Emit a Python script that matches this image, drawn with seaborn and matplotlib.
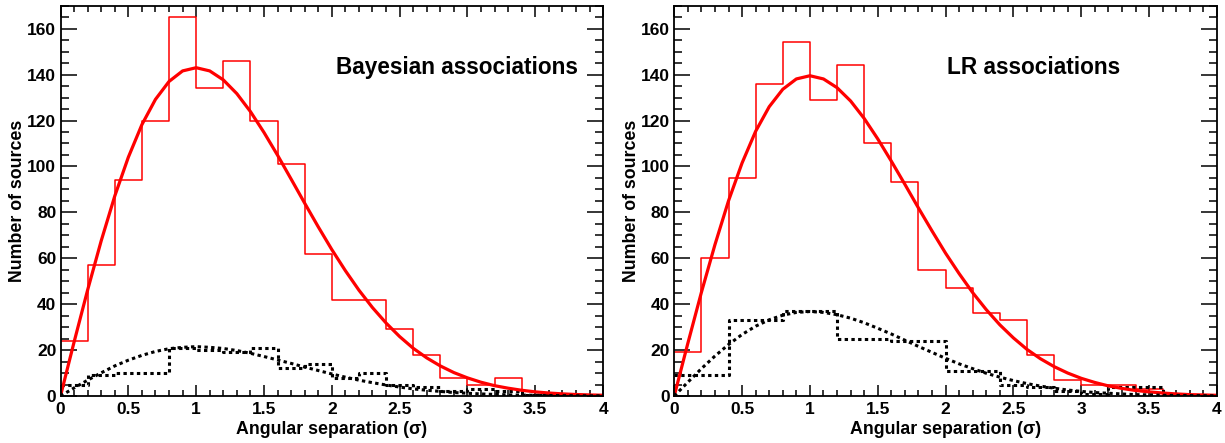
import numpy as np
import seaborn as sns
import matplotlib
matplotlib.use("Agg")
import matplotlib.pyplot as plt
from matplotlib.ticker import MultipleLocator

# histogram bins: 0 to 4 in steps of 0.2
bin_edges = [0.0, 0.2, 0.4, 0.6, 0.8, 1.0, 1.2, 1.4, 1.6, 1.8, 2.0,
             2.2, 2.4, 2.6, 2.8, 3.0, 3.2, 3.4, 3.6, 3.8, 4.0]
bin_centers = [0.1, 0.3, 0.5, 0.7, 0.9, 1.1, 1.3, 1.5, 1.7, 1.9,
               2.1, 2.3, 2.5, 2.7, 2.9, 3.1, 3.3, 3.5, 3.7, 3.9]

# Bayesian associations
bay_counts = [24, 57, 94, 120, 165, 134, 146, 120, 101, 62,
              42, 42, 29, 18, 8, 5, 8, 0, 0, 0]
bay_random = [5, 9, 10, 10, 21, 20, 19, 21, 12, 14,
              8, 10, 5, 4, 2, 3, 2, 0.5, 0.5, 0.5]

# LR associations
lr_counts = [19, 60, 95, 136, 154, 129, 144, 110, 93, 55,
             47, 36, 33, 18, 7, 5, 5, 3, 0, 0]
lr_random = [9, 9, 33, 33, 37, 37, 25, 25, 24, 24,
             11, 11, 5, 4, 2, 1, 4, 4, 0, 0]

curve_x = [0.0, 0.1, 0.2, 0.3, 0.4, 0.5, 0.6, 0.7, 0.8, 0.9, 1.0,
           1.1, 1.2, 1.3, 1.4, 1.5, 1.6, 1.7, 1.8, 1.9, 2.0,
           2.1, 2.2, 2.3, 2.4, 2.5, 2.6, 2.7, 2.8, 2.9, 3.0,
           3.1, 3.2, 3.3, 3.4, 3.5, 3.6, 3.7, 3.8, 3.9, 4.0]
bay_fit = [0, 23.5, 46.2, 67.6, 87.1, 104.0, 118.2, 129.2, 137.0, 141.6, 143.0,
           141.6, 137.7, 131.7, 123.9, 114.8, 104.9, 94.5, 84.0, 73.7, 63.8,
           54.6, 46.1, 38.5, 31.8, 25.9, 20.8, 16.6, 13.1, 10.2, 7.9,
           6.0, 4.5, 3.4, 2.5, 1.8, 1.3, 0.93, 0.65, 0.46, 0.32]
bay_random_fit = [0, 3.5, 6.9, 10.1, 13.1, 15.6, 17.7, 19.4, 20.6, 21.2, 21.5,
                  21.2, 20.7, 19.8, 18.6, 17.2, 15.7, 14.2, 12.6, 11.1, 9.6,
                  8.2, 6.9, 5.8, 4.8, 3.9, 3.1, 2.5, 2.0, 1.5, 1.2,
                  0.9, 0.7, 0.5, 0.4, 0.3, 0.2, 0.14, 0.1, 0.07, 0.05]
lr_fit = [0, 22.9, 45.1, 65.9, 85.0, 101.5, 115.3, 126.0, 133.6, 138.1, 139.5,
          138.1, 134.3, 128.5, 120.9, 112.0, 102.3, 92.2, 81.9, 71.9, 62.2,
          53.3, 45.0, 37.6, 31.0, 25.3, 20.3, 16.2, 12.8, 10.0, 7.7,
          5.9, 4.4, 3.3, 2.4, 1.8, 1.3, 0.9, 0.6, 0.45, 0.3]
lr_random_fit = [0, 6.0, 11.9, 17.4, 22.4, 26.8, 30.4, 33.2, 35.2, 36.4, 36.8,
                 36.4, 35.4, 33.9, 31.9, 29.5, 27.0, 24.3, 21.6, 19.0, 16.4,
                 14.0, 11.9, 9.9, 8.2, 6.7, 5.4, 4.3, 3.4, 2.6, 2.0,
                 1.5, 1.2, 0.9, 0.6, 0.5, 0.3, 0.24, 0.17, 0.12, 0.08]

x_ticks = [0, 0.5, 1, 1.5, 2, 2.5, 3, 3.5, 4]
x_ticklabels = ['0', '0.5', '1', '1.5', '2', '2.5', '3', '3.5', '4']
y_ticks = [0, 20, 40, 60, 80, 100, 120, 140, 160]

sns.set_style("ticks")
plt.rcParams['font.family'] = ['Liberation Sans', 'DejaVu Sans']
plt.rcParams['font.weight'] = 'bold'
plt.rcParams['text.color'] = 'black'
plt.rcParams['axes.labelcolor'] = 'black'

fig = plt.figure(figsize=(12.25, 4.43), dpi=100)
ax1 = fig.add_axes([0.0494, 0.1061, 0.4429, 0.881])
ax2 = fig.add_axes([0.5504, 0.1061, 0.4430, 0.881])

panels = [
    (ax1, bay_counts, bay_random, bay_fit, bay_random_fit, "Bayesian associations", 2.92),
    (ax2, lr_counts, lr_random, lr_fit, lr_random_fit, "LR associations", 2.65),
]

dots = (0, (1.1, 1.1))

for ax, counts, rand, fit, rand_fit, label, label_x in panels:
    sns.histplot(x=bin_centers, weights=counts, bins=bin_edges, element='step',
                 fill=False, color='#ff0000', linewidth=1.1, ax=ax)
    sns.histplot(x=bin_centers, weights=rand, bins=bin_edges, element='step',
                 fill=False, color='black', linewidth=2.2, linestyle=dots, ax=ax)
    sns.lineplot(x=curve_x, y=fit, color='#ff0000', linewidth=2.3, ax=ax)
    sns.lineplot(x=curve_x, y=rand_fit, color='black', linewidth=2.2,
                 linestyle=dots, ax=ax)

    ax.set_xlim(0, 4)
    ax.set_ylim(0, 170)
    ax.set_xticks(x_ticks)
    ax.set_xticklabels(x_ticklabels)
    ax.set_yticks(y_ticks)
    ax.xaxis.set_minor_locator(MultipleLocator(0.1))
    ax.yaxis.set_minor_locator(MultipleLocator(5))
    ax.tick_params(axis='both', which='both', direction='in', top=True, right=True,
                   labelsize=12.5, width=1.1, colors='black')
    ax.tick_params(axis='x', which='major', length=8, pad=4)
    ax.tick_params(axis='x', which='minor', length=4)
    ax.tick_params(axis='y', which='major', length=11.5, pad=3)
    ax.tick_params(axis='y', which='minor', length=5.5)
    for lab in ax.get_xticklabels() + ax.get_yticklabels():
        lab.set_fontweight('bold')
    for s in ax.spines.values():
        s.set_linewidth(1.3)
        s.set_color('black')

    ax.set_xlabel("Angular separation (σ)", fontsize=12.8, fontweight='bold',
                  labelpad=3, color='black')
    ax.set_ylabel("Number of sources", fontsize=12.8, fontweight='bold',
                  labelpad=1, color='black')
    ax.text(label_x, 143, label, fontsize=16.3, fontweight='bold', color='black',
            ha='center', va='center')

fig.savefig("out.png", dpi=100)
